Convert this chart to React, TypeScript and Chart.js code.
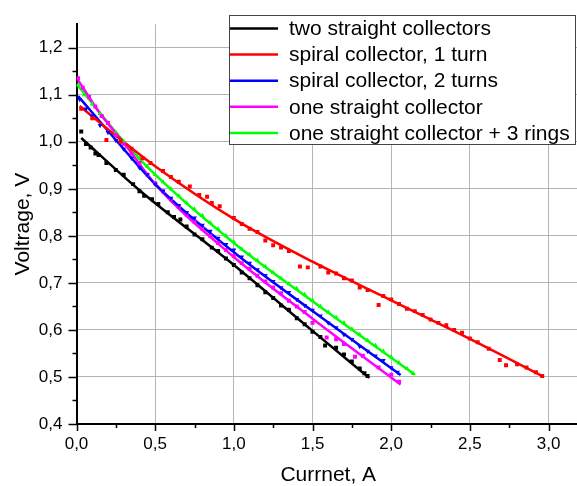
import { useEffect, useRef } from 'react';
import { Chart, registerables } from 'chart.js';

Chart.register(...registerables);

const seriesLabels = [
  'two straight collectors',
  'spiral collector, 1 turn',
  'spiral collector, 2 turns',
  'one straight collector',
  'one straight collector + 3 rings',
];
const seriesColors = ['#000000', '#ff0000', '#0000ff', '#ff00ff', '#00ff00'];

const xTicks = [0, 0.5, 1.0, 1.5, 2.0, 2.5, 3.0];
const yTicks = [0.4, 0.5, 0.6, 0.7, 0.8, 0.9, 1.0, 1.1, 1.2];

// measured points
const blackX = [0.03, 0.06, 0.09, 0.12, 0.14, 0.19, 0.25, 0.3, 0.36, 0.4, 0.43, 0.48, 0.52, 0.58, 0.62, 0.66, 0.7, 0.75, 0.8, 0.86, 0.9, 0.95, 1.0, 1.05, 1.1, 1.15, 1.2, 1.25, 1.3, 1.35, 1.4, 1.45, 1.5, 1.55, 1.58, 1.65, 1.7, 1.75, 1.8, 1.83, 1.85];
const blackY = [1.022, 0.995, 0.988, 0.975, 0.972, 0.955, 0.94, 0.93, 0.91, 0.895, 0.885, 0.878, 0.868, 0.85, 0.84, 0.835, 0.82, 0.803, 0.793, 0.775, 0.768, 0.752, 0.738, 0.722, 0.71, 0.695, 0.68, 0.668, 0.652, 0.643, 0.625, 0.612, 0.596, 0.585, 0.567, 0.562, 0.548, 0.533, 0.518, 0.508, 0.502];

const redX = [0.03, 0.1, 0.19, 0.28, 0.35, 0.42, 0.47, 0.55, 0.6, 0.65, 0.72, 0.78, 0.83, 0.86, 0.91, 1.0, 1.05, 1.1, 1.15, 1.2, 1.25, 1.3, 1.35, 1.42, 1.47, 1.55, 1.6, 1.65, 1.7, 1.75, 1.8, 1.85, 1.92, 1.95, 2.0, 2.05, 2.1, 2.15, 2.2, 2.25, 2.3, 2.35, 2.4, 2.45, 2.5, 2.55, 2.62, 2.69, 2.73, 2.8, 2.86, 2.92, 2.96];
const redY = [1.07, 1.05, 1.004, 1.0, 0.985, 0.965, 0.955, 0.938, 0.925, 0.915, 0.905, 0.887, 0.883, 0.87, 0.863, 0.838, 0.825, 0.815, 0.808, 0.79, 0.78, 0.775, 0.768, 0.735, 0.733, 0.735, 0.722, 0.72, 0.71, 0.705, 0.69, 0.685, 0.653, 0.672, 0.665, 0.655, 0.645, 0.64, 0.632, 0.622, 0.615, 0.61, 0.6, 0.594, 0.582, 0.574, 0.56, 0.536, 0.525, 0.527, 0.52, 0.51, 0.502];

const blueX = [0.02, 0.06, 0.1, 0.15, 0.2, 0.25, 0.3, 0.35, 0.4, 0.45, 0.5, 0.55, 0.6, 0.65, 0.7, 0.75, 0.8, 0.85, 0.9, 0.95, 1.0, 1.05, 1.1, 1.15, 1.2, 1.25, 1.3, 1.35, 1.4, 1.45, 1.5, 1.55, 1.6, 1.65, 1.7, 1.75, 1.8, 1.85, 1.9, 1.95, 2.0, 2.04];
const blueY = [1.09, 1.07, 1.055, 1.035, 1.02, 1.003, 0.985, 0.965, 0.945, 0.93, 0.91, 0.895, 0.88, 0.865, 0.85, 0.838, 0.823, 0.81, 0.795, 0.782, 0.77, 0.755, 0.742, 0.728, 0.716, 0.703, 0.69, 0.68, 0.665, 0.652, 0.642, 0.63, 0.615, 0.605, 0.59, 0.58, 0.565, 0.555, 0.545, 0.535, 0.52, 0.51];

const magentaX = [0.01, 0.04, 0.08, 0.12, 0.16, 0.2, 0.25, 0.3, 0.35, 0.4, 0.45, 0.5, 0.55, 0.6, 0.65, 0.7, 0.75, 0.8, 0.85, 0.9, 0.95, 1.0, 1.05, 1.1, 1.15, 1.2, 1.25, 1.3, 1.35, 1.4, 1.45, 1.5, 1.59, 1.65, 1.7, 1.77, 1.82, 1.92, 2.0, 2.05];
const magentaY = [1.135, 1.115, 1.095, 1.075, 1.055, 1.04, 1.015, 0.995, 0.975, 0.955, 0.93, 0.912, 0.895, 0.878, 0.862, 0.845, 0.83, 0.815, 0.8, 0.785, 0.77, 0.757, 0.742, 0.73, 0.715, 0.703, 0.69, 0.678, 0.662, 0.65, 0.638, 0.615, 0.584, 0.58, 0.57, 0.543, 0.545, 0.52, 0.505, 0.49];

const greenX = [0.01, 0.05, 0.1, 0.15, 0.2, 0.25, 0.3, 0.35, 0.4, 0.45, 0.5, 0.55, 0.6, 0.65, 0.7, 0.75, 0.8, 0.85, 0.9, 0.95, 1.0, 1.05, 1.1, 1.15, 1.2, 1.25, 1.3, 1.35, 1.4, 1.45, 1.5, 1.55, 1.6, 1.65, 1.7, 1.75, 1.8, 1.85, 1.9, 1.95, 2.0, 2.05, 2.1, 2.14];
const greenY = [1.12, 1.1, 1.08, 1.06, 1.04, 1.02, 1.0, 0.985, 0.965, 0.948, 0.93, 0.915, 0.9, 0.885, 0.87, 0.857, 0.843, 0.828, 0.815, 0.8, 0.787, 0.772, 0.76, 0.748, 0.735, 0.722, 0.71, 0.698, 0.688, 0.675, 0.663, 0.65, 0.638, 0.627, 0.615, 0.602, 0.59, 0.578, 0.567, 0.555, 0.543, 0.53, 0.518, 0.507];

// fitted curves
const blackFitX = [0.03, 0.4, 1.0, 1.5, 1.86];
const blackFitY = [1.008, 0.897, 0.738, 0.598, 0.498];
const redFitX = [0.02, 0.25, 0.5, 1.0, 1.5, 2.0, 2.5, 2.96];
const redFitY = [1.076, 1.013, 0.948, 0.836, 0.745, 0.663, 0.581, 0.502];
const blueFitX = [0.01, 0.25, 0.5, 1.0, 1.5, 2.06];
const blueFitY = [1.097, 1.004, 0.91, 0.765, 0.64, 0.504];
const magentaFitX = [0.01, 0.15, 0.318, 0.5, 1.0, 1.5, 2.06];
const magentaFitY = [1.131, 1.06, 0.99, 0.91, 0.755, 0.624, 0.484];
const greenFitX = [0.0, 0.318, 0.5, 1.0, 1.5, 2.15];
const greenFitY = [1.123, 0.994, 0.93, 0.785, 0.661, 0.505];

const pointXs = [blackX, redX, blueX, magentaX, greenX];
const pointYs = [blackY, redY, blueY, magentaY, greenY];
const fitXs = [blackFitX, redFitX, blueFitX, magentaFitX, greenFitX];
const fitYs = [blackFitY, redFitY, blueFitY, magentaFitY, greenFitY];
const pointStyles = ['rect', 'rect', 'triangle', 'rect', 'triangle'];
const pointRotations = [0, 0, 180, 0, 0];

const FONT = '"Liberation Sans", Arial, sans-serif';
const fmt = (v: number) => v.toFixed(1).replace('.', ',');
const zip = (xs: number[], ys: number[]) => xs.map((x, i) => ({ x, y: ys[i] }));

const ticksPlugin = {
  id: 'axisTicks',
  afterDraw(chart: any) {
    const ctx = chart.ctx;
    const xs = chart.scales.x;
    const ys = chart.scales.y;
    const { left, bottom } = chart.chartArea;
    ctx.save();
    ctx.strokeStyle = '#000';
    ctx.lineWidth = 1.5;
    ctx.beginPath();
    xTicks.forEach((v) => {
      const p = Math.round(xs.getPixelForValue(v)) + 0.5;
      ctx.moveTo(p, bottom); ctx.lineTo(p, bottom + 7);
      const m = Math.round(xs.getPixelForValue(v + 0.25)) + 0.5;
      ctx.moveTo(m, bottom); ctx.lineTo(m, bottom + 4);
    });
    yTicks.forEach((v) => {
      const p = Math.round(ys.getPixelForValue(v)) + 0.5;
      ctx.moveTo(left, p); ctx.lineTo(left - 8, p);
      if (v < 1.2) {
        const m = Math.round(ys.getPixelForValue(v + 0.05)) + 0.5;
        ctx.moveTo(left, m); ctx.lineTo(left - 4, m);
      }
    });
    ctx.stroke();

    // legend box
    const bx = 229.5, by = 15.5, bw = 346, bh = 129;
    ctx.fillStyle = '#fff';
    ctx.fillRect(bx, by, bw, bh);
    ctx.strokeStyle = '#444';
    ctx.lineWidth = 1;
    ctx.strokeRect(bx, by, bw, bh);
    ctx.font = '21px ' + FONT;
    ctx.textBaseline = 'middle';
    ctx.textAlign = 'left';
    seriesLabels.forEach((lab, i) => {
      const cy = 28.5 + i * 26.1;
      ctx.strokeStyle = seriesColors[i];
      ctx.lineWidth = 2.5;
      ctx.beginPath();
      ctx.moveTo(230, cy); ctx.lineTo(278, cy);
      ctx.stroke();
      ctx.fillStyle = '#000';
      ctx.fillText(lab, 289, cy + 1);
    });
    ctx.restore();
  },
};

export default function App() {
  const ref = useRef<HTMLCanvasElement>(null);
  useEffect(() => {
    if (!ref.current) return;
    const datasets: any[] = [];
    seriesLabels.forEach((lab, i) => {
      datasets.push({
        label: lab + ' data',
        data: zip(pointXs[i], pointYs[i]),
        showLine: false,
        pointStyle: pointStyles[i],
        rotation: pointRotations[i],
        pointRadius: 2.8,
        backgroundColor: seriesColors[i],
        borderColor: seriesColors[i],
        borderWidth: 0,
      });
    });
    seriesLabels.forEach((lab, i) => {
      datasets.push({
        label: lab,
        data: zip(fitXs[i], fitYs[i]),
        showLine: true,
        pointRadius: 0,
        borderColor: seriesColors[i],
        borderWidth: 2.5,
        cubicInterpolationMode: 'monotone',
      });
    });
    const chart = new Chart(ref.current, {
      type: 'scatter',
      data: { datasets },
      options: {
        animation: false,
        responsive: false,
        devicePixelRatio: 1,
        layout: { padding: { left: 0, right: 20, top: 13, bottom: 0 } },
        plugins: { legend: { display: false }, tooltip: { enabled: false } },
        scales: {
          x: {
            type: 'linear',
            min: 0,
            max: 3.2,
            afterFit: (s: any) => { s.height = 62; },
            afterBuildTicks: (s: any) => { s.ticks = xTicks.map((v) => ({ value: v })); },
            ticks: { callback: (v: any) => fmt(Number(v)), color: '#000', font: { size: 17, family: FONT }, padding: 10, maxRotation: 0, autoSkip: false },
            grid: { color: '#b4b4b4', lineWidth: 1, drawTicks: false },
            border: { display: true, color: '#000', width: 2 },
            title: { display: true, text: 'Currnet, A', color: '#000', font: { size: 21, family: FONT, lineHeight: 1 }, padding: { top: 0, bottom: 0 } },
          },
          y: {
            type: 'linear',
            min: 0.4,
            max: 1.25,
            afterFit: (s: any) => { s.width = 76.5; },
            afterBuildTicks: (s: any) => { s.ticks = yTicks.map((v) => ({ value: v })); },
            ticks: { callback: (v: any) => fmt(Number(v)), color: '#000', font: { size: 17, family: FONT }, padding: 14, autoSkip: false },
            grid: { color: '#b4b4b4', lineWidth: 1, drawTicks: false },
            border: { display: true, color: '#000', width: 2 },
            title: { display: true, text: 'Voltrage, V', color: '#000', font: { size: 21, family: FONT, lineHeight: 1 }, padding: { top: 13, bottom: 0 } },
          },
        },
      },
      plugins: [ticksPlugin],
    });
    return () => chart.destroy();
  }, []);
  return (
    <div style={{ position: 'absolute', left: 0, top: 0, width: 577, height: 486, overflow: 'hidden', background: '#fff' }}>
      <canvas ref={ref} width={600} height={486} style={{ display: 'block', width: 600, height: 486 }} />
    </div>
  );
}
